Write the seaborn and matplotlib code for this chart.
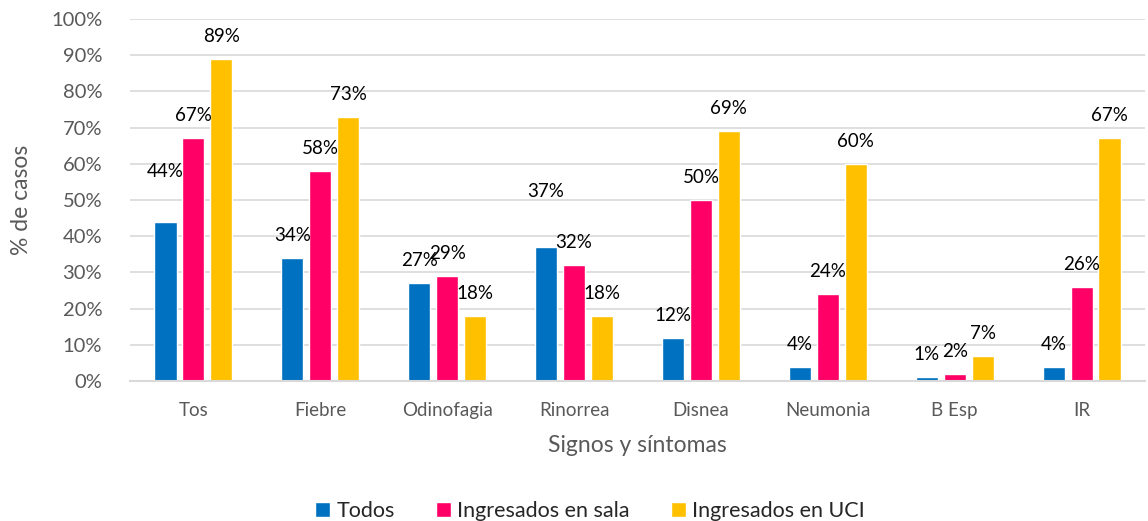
import matplotlib
matplotlib.use("Agg")
import matplotlib.pyplot as plt
import seaborn as sns
import pandas as pd
from matplotlib.ticker import PercentFormatter, MultipleLocator

categories = ["Tos", "Fiebre", "Odinofagia", "Rinorrea", "Disnea", "Neumonia", "B Esp", "IR"]
series_names = ["Todos", "Ingresados en sala", "Ingresados en UCI"]
todos = [44, 34, 27, 37, 12, 4, 1, 4]
sala = [67, 58, 29, 32, 50, 24, 2, 26]
uci = [89, 73, 18, 18, 69, 60, 7, 67]
colors = ["#0070C0", "#FF0066", "#FFC000"]

rows = []
for name, vals in zip(series_names, [todos, sala, uci]):
    for c, v in zip(categories, vals):
        rows.append({"cat": c, "serie": name, "val": v})
df = pd.DataFrame(rows)

sns.set_theme(style="white")
plt.rcParams['font.family'] = ['Lato', 'DejaVu Sans']

fig = plt.figure(figsize=(11.48, 5.21), dpi=100)
ax = fig.add_axes([130/1148, 1-381/521, 1015/1148, 362/521])

sns.barplot(data=df, x="cat", y="val", hue="serie", order=categories,
            hue_order=series_names, palette=colors, width=0.66, gap=0.21,
            saturation=1, ax=ax, legend=True, errorbar=None)

ax.set_ylim(0, 100)
ax.set_xlim(-0.5, len(categories) - 0.5)
ax.yaxis.set_major_locator(MultipleLocator(10))
ax.yaxis.set_major_formatter(PercentFormatter(decimals=0))
ax.grid(axis="y", color="#D9D9D9", linewidth=1.2)
ax.set_axisbelow(True)
for s in ["top", "right", "left"]:
    ax.spines[s].set_visible(False)
ax.spines["bottom"].set_color("#D9D9D9")
ax.spines["bottom"].set_linewidth(1.5)
ax.tick_params(axis="x", length=0, colors="#595959", labelsize=13.5, pad=15)
ax.tick_params(axis="y", length=0, colors="#595959", labelsize=14.5, pad=20)

ax.set_xlabel("Signos y síntomas", fontsize=16.5, color="#595959", labelpad=12)
ax.set_ylabel("% de casos", fontsize=16.5, color="#595959", labelpad=14)

extra_lift = {("Todos", "Tos"): 28, ("Todos", "Rinorrea"): 33}
for container, name in zip(ax.containers, series_names):
    for bar, c in zip(container, categories):
        h = bar.get_height()
        lift = 14 + extra_lift.get((name, c), 0)
        ax.annotate(f"{h:.0f}%", (bar.get_x() + bar.get_width() / 2, h),
                    xytext=(0, lift), textcoords="offset pixels",
                    ha="center", va="bottom", fontsize=13.5, color="#000000")

leg = ax.legend(loc="lower center", bbox_to_anchor=(0.453, -0.44), ncol=3,
                frameon=False, fontsize=15.5, handlelength=0.7, handleheight=0.7,
                handletextpad=0.3, columnspacing=1.9)

fig.savefig("out.png", dpi=100)
